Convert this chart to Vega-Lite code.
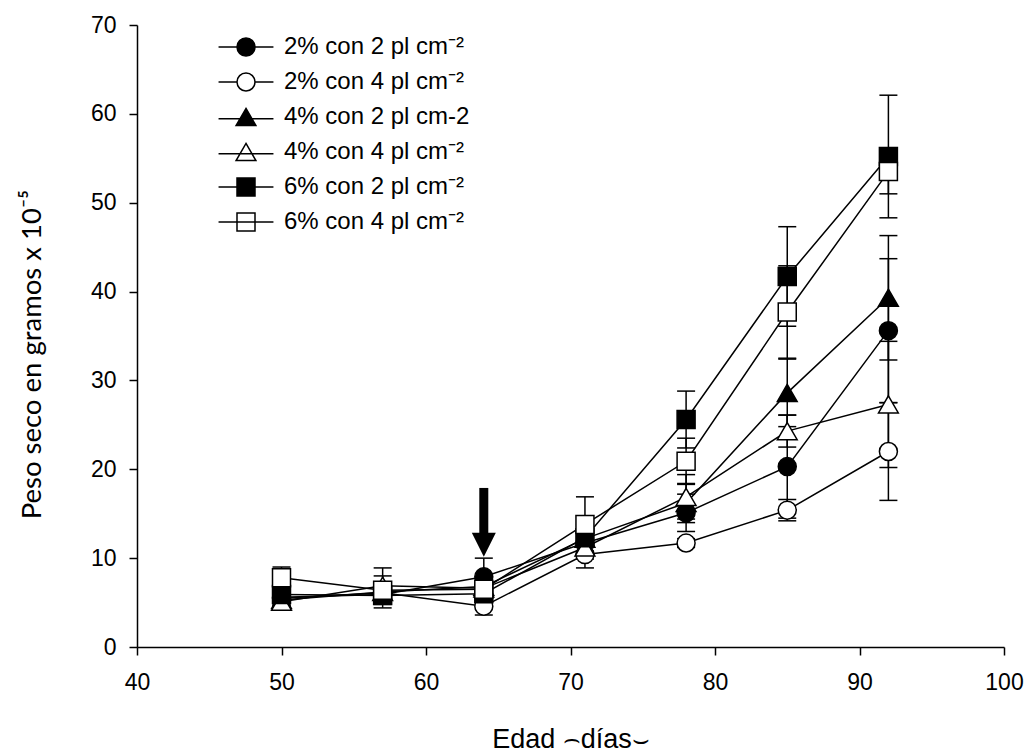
{
  "$schema": "https://vega.github.io/schema/vega-lite/v6.json",
  "width": 867,
  "height": 622,
  "autosize": "none",
  "padding": {"left": 137, "top": 25, "right": 24, "bottom": 106},
  "background": "white",
  "config": {
    "view": {"stroke": null},
    "axis": {
      "domainColor": "black",
      "domainWidth": 1.5,
      "tickColor": "black",
      "tickWidth": 1.5,
      "tickSize": 8,
      "grid": false,
      "labelFlush": false,
      "labelFont": "Liberation Sans",
      "labelFontSize": 23,
      "labelColor": "black",
      "titleColor": "black",
      "titleFontWeight": "normal"
    }
  },
  "datasets": {
    "peso": [
      {"serie": "2% con 2 pl cm⁻²", "edad": 50, "peso": 5.6, "lo": 4.7, "hi": 6.5},
      {"serie": "2% con 2 pl cm⁻²", "edad": 57, "peso": 5.9, "lo": 5.0, "hi": 6.8},
      {"serie": "2% con 2 pl cm⁻²", "edad": 64, "peso": 7.9, "lo": 5.8, "hi": 10.0},
      {"serie": "2% con 2 pl cm⁻²", "edad": 71, "peso": 11.7, "lo": 10.5, "hi": 12.9},
      {"serie": "2% con 2 pl cm⁻²", "edad": 78, "peso": 15.1, "lo": 13.0, "hi": 17.2},
      {"serie": "2% con 2 pl cm⁻²", "edad": 85, "peso": 20.3, "lo": 14.5, "hi": 26.1},
      {"serie": "2% con 2 pl cm⁻²", "edad": 92, "peso": 35.6, "lo": 27.5, "hi": 43.7},
      {"serie": "2% con 4 pl cm⁻²", "edad": 50, "peso": 5.5, "lo": 4.8, "hi": 6.2},
      {"serie": "2% con 4 pl cm⁻²", "edad": 57, "peso": 6.1, "lo": 5.3, "hi": 6.9},
      {"serie": "2% con 4 pl cm⁻²", "edad": 64, "peso": 4.6, "lo": 3.6, "hi": 5.6},
      {"serie": "2% con 4 pl cm⁻²", "edad": 71, "peso": 10.4, "lo": 8.9, "hi": 11.9},
      {"serie": "2% con 4 pl cm⁻²", "edad": 78, "peso": 11.7, "lo": 11.2, "hi": 12.2},
      {"serie": "2% con 4 pl cm⁻²", "edad": 85, "peso": 15.4, "lo": 14.2, "hi": 16.6},
      {"serie": "2% con 4 pl cm⁻²", "edad": 92, "peso": 22.0, "lo": 16.5, "hi": 27.5},
      {"serie": "4% con 2 pl cm-2", "edad": 50, "peso": 5.3, "lo": 4.7, "hi": 5.9},
      {"serie": "4% con 2 pl cm-2", "edad": 57, "peso": 6.2, "lo": 4.4, "hi": 8.0},
      {"serie": "4% con 2 pl cm-2", "edad": 64, "peso": 6.8, "lo": 6.3, "hi": 7.3},
      {"serie": "4% con 2 pl cm-2", "edad": 71, "peso": 12.2, "lo": 11.2, "hi": 13.2},
      {"serie": "4% con 2 pl cm-2", "edad": 78, "peso": 16.2, "lo": 14.0, "hi": 18.4},
      {"serie": "4% con 2 pl cm-2", "edad": 85, "peso": 28.6, "lo": 24.8, "hi": 32.4},
      {"serie": "4% con 2 pl cm-2", "edad": 92, "peso": 39.3, "lo": 32.3, "hi": 46.3},
      {"serie": "4% con 4 pl cm⁻²", "edad": 50, "peso": 5.1, "lo": 4.6, "hi": 5.6},
      {"serie": "4% con 4 pl cm⁻²", "edad": 57, "peso": 6.9, "lo": 4.9, "hi": 8.9},
      {"serie": "4% con 4 pl cm⁻²", "edad": 64, "peso": 6.6, "lo": 6.0, "hi": 7.2},
      {"serie": "4% con 4 pl cm⁻²", "edad": 71, "peso": 11.2, "lo": 9.9, "hi": 12.5},
      {"serie": "4% con 4 pl cm⁻²", "edad": 78, "peso": 16.9, "lo": 14.4, "hi": 19.4},
      {"serie": "4% con 4 pl cm⁻²", "edad": 85, "peso": 24.3, "lo": 22.5, "hi": 26.1},
      {"serie": "4% con 4 pl cm⁻²", "edad": 92, "peso": 27.3, "lo": 20.2, "hi": 34.4},
      {"serie": "6% con 2 pl cm⁻²", "edad": 50, "peso": 5.9, "lo": 5.1, "hi": 6.7},
      {"serie": "6% con 2 pl cm⁻²", "edad": 57, "peso": 5.8, "lo": 4.8, "hi": 6.8},
      {"serie": "6% con 2 pl cm⁻²", "edad": 64, "peso": 6.0, "lo": 5.5, "hi": 6.5},
      {"serie": "6% con 2 pl cm⁻²", "edad": 71, "peso": 12.3, "lo": 10.8, "hi": 13.8},
      {"serie": "6% con 2 pl cm⁻²", "edad": 78, "peso": 25.6, "lo": 22.4, "hi": 28.8},
      {"serie": "6% con 2 pl cm⁻²", "edad": 85, "peso": 41.7, "lo": 36.1, "hi": 47.3},
      {"serie": "6% con 2 pl cm⁻²", "edad": 92, "peso": 55.2, "lo": 48.3, "hi": 62.1},
      {"serie": "6% con 4 pl cm⁻²", "edad": 50, "peso": 7.8, "lo": 6.6, "hi": 9.0},
      {"serie": "6% con 4 pl cm⁻²", "edad": 57, "peso": 6.4, "lo": 5.6, "hi": 7.2},
      {"serie": "6% con 4 pl cm⁻²", "edad": 64, "peso": 6.5, "lo": 5.9, "hi": 7.1},
      {"serie": "6% con 4 pl cm⁻²", "edad": 71, "peso": 13.8, "lo": 10.7, "hi": 16.9},
      {"serie": "6% con 4 pl cm⁻²", "edad": 78, "peso": 20.9, "lo": 18.3, "hi": 23.5},
      {"serie": "6% con 4 pl cm⁻²", "edad": 85, "peso": 37.7, "lo": 32.5, "hi": 42.9},
      {"serie": "6% con 4 pl cm⁻²", "edad": 92, "peso": 53.5, "lo": 51.0, "hi": 56.0}
    ],
    "flecha": [
      {"edad": 64, "arriba": 17.9, "abajo": 12.6, "punta": 11.5}
    ]
  },
  "layer": [
    {
      "data": {"name": "peso"},
      "mark": {"type": "rule", "color": "black", "strokeWidth": 1.5},
      "encoding": {
        "x": {"field": "edad", "type": "quantitative",
              "scale": {"domain": [40, 100], "nice": false, "zero": false},
              "axis": {"values": [40, 50, 60, 70, 80, 90, 100], "labelPadding": 16,
                       "title": "Edad ⌢días⌣", "titleFont": "Liberation Sans", "titleFontSize": 27,
                       "titleBaseline": "alphabetic", "titleY": 100}},
        "y": {"field": "lo", "type": "quantitative",
              "scale": {"domain": [0, 70], "nice": false, "zero": true},
              "axis": {"values": [0, 10, 20, 30, 40, 50, 60, 70], "labelPadding": 13,
                       "title": "Peso seco en gramos x 10⁻⁵", "titleFont": "Lato", "titleFontSize": 27.5,
                       "titleX": -105, "titleY": 329, "titleAlign": "center", "titleBaseline": "middle"}},
        "y2": {"field": "hi"}
      }
    },
    {
      "data": {"name": "peso"},
      "mark": {"type": "point", "shape": "M-1,0H1", "size": 324, "filled": false, "stroke": "black", "strokeWidth": 1.5, "opacity": 1},
      "encoding": {
        "x": {"field": "edad", "type": "quantitative"},
        "y": {"field": "lo", "type": "quantitative"}
      }
    },
    {
      "data": {"name": "peso"},
      "mark": {"type": "point", "shape": "M-1,0H1", "size": 324, "filled": false, "stroke": "black", "strokeWidth": 1.5, "opacity": 1},
      "encoding": {
        "x": {"field": "edad", "type": "quantitative"},
        "y": {"field": "hi", "type": "quantitative"}
      }
    },
    {
      "data": {"name": "peso"},
      "mark": {"type": "line", "color": "black", "strokeWidth": 1.5},
      "encoding": {
        "x": {"field": "edad", "type": "quantitative"},
        "y": {"field": "peso", "type": "quantitative"},
        "detail": {"field": "serie", "type": "nominal"}
      }
    },
    {
      "data": {"name": "peso"},
      "mark": {"type": "point", "filled": true, "stroke": "black", "strokeWidth": 1.5, "opacity": 1},
      "encoding": {
        "x": {"field": "edad", "type": "quantitative"},
        "y": {"field": "peso", "type": "quantitative"},
        "shape": {"field": "serie", "type": "nominal", "legend": null,
                  "scale": {"domain": ["2% con 2 pl cm⁻²", "2% con 4 pl cm⁻²", "4% con 2 pl cm-2", "4% con 4 pl cm⁻²", "6% con 2 pl cm⁻²", "6% con 4 pl cm⁻²"],
                            "range": ["circle", "circle", "M0,-0.95L1.1,0.95L-1.1,0.95Z", "M0,-0.95L1.1,0.95L-1.1,0.95Z", "square", "square"]}},
        "fill": {"field": "serie", "type": "nominal", "legend": null,
                 "scale": {"domain": ["2% con 2 pl cm⁻²", "2% con 4 pl cm⁻²", "4% con 2 pl cm-2", "4% con 4 pl cm⁻²", "6% con 2 pl cm⁻²", "6% con 4 pl cm⁻²"],
                           "range": ["black", "white", "black", "white", "black", "white"]}},
        "size": {"value": 324}
      }
    },
    {
      "data": {"name": "peso"},
      "transform": [{"filter": "datum.edad < 0"}],
      "mark": {"type": "point", "filled": true, "strokeWidth": 1.5, "opacity": 1},
      "encoding": {
        "x": {"field": "edad", "type": "quantitative"},
        "y": {"field": "peso", "type": "quantitative"},
        "shape": {"field": "serie", "type": "nominal",
                  "scale": {"domain": ["2% con 2 pl cm⁻²", "2% con 4 pl cm⁻²", "4% con 2 pl cm-2", "4% con 4 pl cm⁻²", "6% con 2 pl cm⁻²", "6% con 4 pl cm⁻²"],
                            "range": [
                              "M-3.05,0H-1M1,0H3.05M1,0A1,1,0,1,1,-1,0A1,1,0,1,1,1,0Z",
                              "M-3.05,0H-1M1,0H3.05M1,0A1,1,0,1,1,-1,0A1,1,0,1,1,1,0Z",
                              "M0,-0.95L1.1,0.95L-1.1,0.95ZM-3.05,0.2H3.05",
                              "M0,-0.95L1.1,0.95L-1.1,0.95ZM-3.05,0.2H3.05",
                              "M-1,-1H1V1H-1ZM-3.05,0H3.05",
                              "M-1,-1H1V1H-1ZM-3.05,0H3.05"]},
                  "legend": {"title": null, "orient": "none", "legendX": 97, "legendY": 10, "padding": 0,
                             "symbolSize": 324, "symbolStrokeColor": "black", "symbolStrokeWidth": 1.5,
                             "labelFont": "Liberation Sans", "labelFontSize": 24, "labelColor": "black",
                             "labelOffset": 26, "rowPadding": 11, "labelLimit": 400}},
        "fill": {"field": "serie", "type": "nominal",
                 "scale": {"domain": ["2% con 2 pl cm⁻²", "2% con 4 pl cm⁻²", "4% con 2 pl cm-2", "4% con 4 pl cm⁻²", "6% con 2 pl cm⁻²", "6% con 4 pl cm⁻²"],
                           "range": ["black", "white", "black", "white", "black", "white"]},
                 "legend": {"title": null, "orient": "none", "legendX": 97, "legendY": 10, "padding": 0,
                            "symbolSize": 324, "symbolStrokeColor": "black", "symbolStrokeWidth": 1.5,
                            "labelFont": "Liberation Sans", "labelFontSize": 24, "labelColor": "black",
                            "labelOffset": 26, "rowPadding": 11, "labelLimit": 400}},
        "stroke": {"field": "serie", "type": "nominal",
                   "scale": {"domain": ["2% con 2 pl cm⁻²", "2% con 4 pl cm⁻²", "4% con 2 pl cm-2", "4% con 4 pl cm⁻²", "6% con 2 pl cm⁻²", "6% con 4 pl cm⁻²"],
                             "range": ["black", "black", "black", "black", "black", "black"]},
                   "legend": {"title": null, "orient": "none", "legendX": 97, "legendY": 10, "padding": 0,
                              "symbolSize": 324, "symbolStrokeColor": "black", "symbolStrokeWidth": 1.5,
                              "labelFont": "Liberation Sans", "labelFontSize": 24, "labelColor": "black",
                              "labelOffset": 26, "rowPadding": 11, "labelLimit": 400}},
        "size": {"value": 324}
      }
    },
    {
      "data": {"name": "flecha"},
      "mark": {"type": "rule", "color": "black", "strokeWidth": 9},
      "encoding": {
        "x": {"field": "edad", "type": "quantitative"},
        "y": {"field": "arriba", "type": "quantitative"},
        "y2": {"field": "abajo"}
      }
    },
    {
      "data": {"name": "flecha"},
      "mark": {"type": "point", "shape": "M-1,-1H1L0,1Z", "size": 576, "filled": true, "color": "black", "opacity": 1},
      "encoding": {
        "x": {"field": "edad", "type": "quantitative"},
        "y": {"field": "punta", "type": "quantitative"}
      }
    }
  ],
  "resolve": {"scale": {"shape": "independent", "fill": "independent", "stroke": "independent"}}
}
